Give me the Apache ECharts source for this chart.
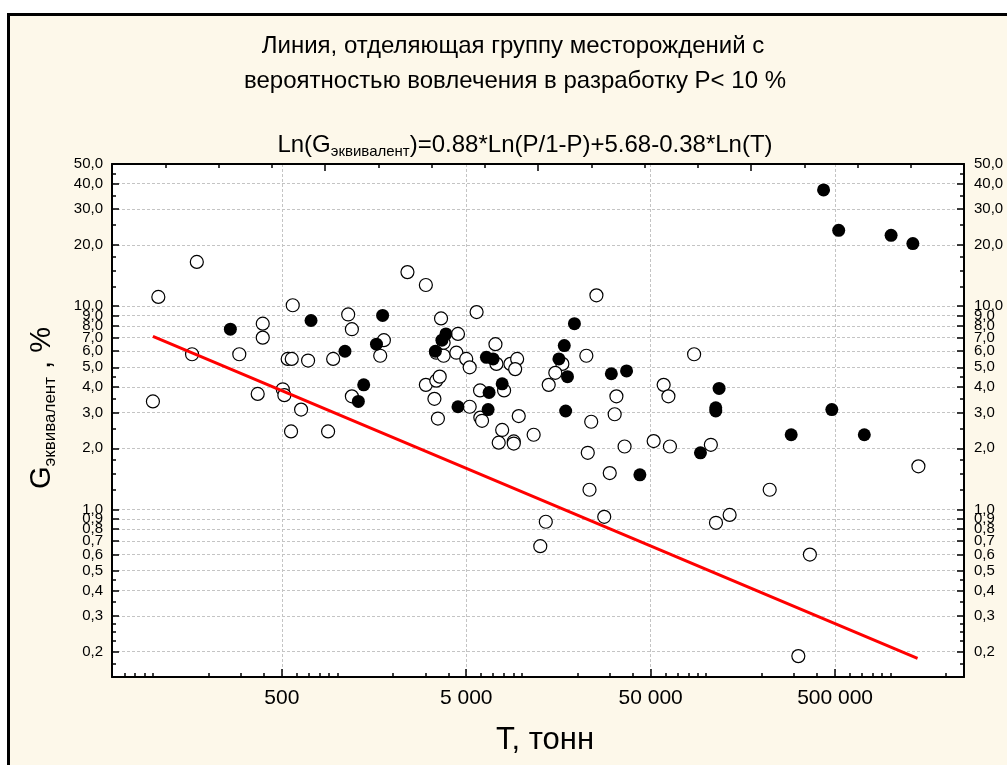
<!DOCTYPE html>
<html>
<head>
<meta charset="utf-8">
<script src="https://cdn.jsdelivr.net/npm/echarts@6/dist/echarts.min.js"></script>
<style>
  html, body { margin: 0; padding: 0; background: #fff; }
  #chart { width: 1007px; height: 765px; }
</style>
</head>
<body>
<div id="chart"></div>
<script>
  // [T, G] — месторождения, не вовлечённые в разработку (пустые кружки)
  const openPoints = [
    [173, 16.5], [107, 11.1], [394, 8.2], [394, 7.0], [163, 5.8], [294, 5.8], [100, 3.4],
    [370, 3.7], [506, 3.9], [516, 3.65], [636, 3.1], [573, 10.1], [538, 5.5], [566, 5.5],
    [694, 5.4], [949, 5.5], [1145, 9.1], [1199, 7.7], [1199, 3.6], [1788, 6.8], [1708, 5.7],
    [2400, 14.7], [3020, 12.7], [3650, 8.7], [4510, 7.3], [3770, 6.6], [3440, 5.9], [3770, 5.7],
    [4420, 5.9], [5000, 5.5], [5220, 5.0], [3020, 4.1], [3440, 4.3], [3590, 4.5], [3360, 3.5],
    [3510, 2.8], [5220, 3.2], [5690, 9.35], [7200, 6.5], [7290, 5.2], [8680, 5.2], [9440, 5.5],
    [9210, 4.9], [5940, 3.85], [8020, 3.85], [5960, 2.83], [6090, 2.73], [9630, 2.88], [561, 2.42],
    [891, 2.42], [7830, 2.46], [7500, 2.13], [9050, 2.16], [9050, 2.11], [11600, 2.33], [25400, 11.3],
    [16600, 5.2], [15200, 4.7], [14000, 4.1], [22400, 5.7], [32600, 3.6], [31900, 2.94], [23800, 2.7],
    [86000, 5.8], [58800, 4.1], [62400, 3.6], [22800, 1.9], [36100, 2.04], [30000, 1.51], [23300, 1.25],
    [51900, 2.17], [63600, 2.04], [106000, 2.08], [1415000, 1.63], [221000, 1.25], [13500, 0.87],
    [12600, 0.66], [28000, 0.92], [113000, 0.86], [134000, 0.94], [365000, 0.6], [316000, 0.19]
  ]
  // [T, G] — вовлечённые в разработку (залитые кружки)
  const filledPoints = [
    [263, 7.7], [720, 8.5], [1100, 6.0], [1390, 4.1], [1300, 3.4], [1760, 9.0], [1630, 6.5],
    [3880, 7.3], [3690, 6.8], [3400, 6.0], [4510, 3.2], [6430, 5.6], [6990, 5.5], [6650, 3.76],
    [7830, 4.15], [6570, 3.1], [433000, 37.3], [523000, 23.6], [1006000, 22.3], [1320000, 20.3],
    [19300, 8.2], [17000, 6.4], [15900, 5.5], [17700, 4.5], [30600, 4.65], [37000, 4.8], [17300, 3.05],
    [117500, 3.94], [112700, 3.16], [112700, 3.05], [480000, 3.1], [43700, 1.48], [93100, 1.9],
    [289000, 2.33], [720000, 2.33]
  ]
  // граница P < 10 %
  const boundaryLine = [[100, 7.1], [1400000, 0.185]]

  const xTickValues = [500, 5000, 50000, 500000]
  const yTickValues = [50, 40, 30, 20, 10, 9, 8, 7, 6, 5, 4, 3, 2, 1, 0.9, 0.8, 0.7, 0.6, 0.5, 0.4, 0.3, 0.2]
  const yMinorTicks = [0.175, 0.225, 0.25, 0.275, 0.35, 0.45, 1.25, 1.5, 1.75, 2.5, 3.5, 4.5, 12.5, 15, 17.5, 25, 35, 45]

  const X_MIN = 60, X_MAX = 2500000, Y_MIN = 0.15, Y_MAX = 50
  const FONT = 'Liberation Sans, Arial, sans-serif'

  let xMinorTicks = []
  for (let k = 1; k <= 6; k++) {
    for (let m = 1; m <= 9; m++) {
      let v = m * Math.pow(10, k)
      if (m !== 5 && v >= X_MIN && v <= X_MAX) xMinorTicks.push(v)
    }
  }

  const fmtX = v => String(Math.round(v)).replace(/\B(?=(\d{3})+(?!\d))/g, ' ')
  const fmtY = v => Number(v).toFixed(1).replace('.', ',')

  const black = {color: '#000', width: 1.5}
  const axisLine = {onZero: false, lineStyle: {color: '#000', width: 2}}

  const logY = (pos, ticks, len, labels, split) => ({
    type: 'log', min: Y_MIN, max: Y_MAX, position: pos,
    axisLine: labels ? axisLine : {show: false},
    axisTick: {inside: true, length: len, customValues: ticks, lineStyle: black},
    axisLabel: labels ? {
      customValues: ticks, formatter: fmtY, margin: pos === 'left' ? 9 : 10,
      fontSize: 15, color: '#000', fontFamily: FONT
    } : {show: false},
    splitLine: split ? {show: true, lineStyle: {type: [3, 2], color: '#c4c4c4'}} : {show: false},
    minorTick: {show: false}
  })

  const chart = echarts.init(document.getElementById('chart'))
  chart.setOption({
    backgroundColor: '#fff',
    animation: false,
    grid: {left: 112, top: 164, width: 852, height: 513, show: true, backgroundColor: '#fff', borderWidth: 0},
    xAxis: [
      {
        type: 'log', min: X_MIN, max: X_MAX, position: 'bottom',
        axisLine: axisLine,
        axisTick: {inside: true, length: 8, customValues: xTickValues, lineStyle: black},
        axisLabel: {customValues: xTickValues, formatter: fmtX, margin: 11, fontSize: 21, color: '#000', fontFamily: FONT},
        splitLine: {show: true, lineStyle: {type: [3, 2], color: '#c4c4c4'}}
      },
      {
        type: 'log', min: X_MIN, max: X_MAX, position: 'bottom',
        axisLine: {show: false},
        axisTick: {inside: true, length: 4, customValues: xMinorTicks, lineStyle: black},
        axisLabel: {show: false}, splitLine: {show: false}
      },
      {
        type: 'value', min: 0, max: 4, interval: 1, position: 'top',
        axisLine: axisLine,
        axisTick: {inside: true, length: 7, lineStyle: black},
        minorTick: {show: true, splitNumber: 4, length: 4, lineStyle: black},
        axisLabel: {show: false}, splitLine: {show: false}
      }
    ],
    yAxis: [
      logY('left', yTickValues, 7, true, true),
      logY('right', yTickValues, 7, true, false),
      logY('left', yMinorTicks, 4, false, false),
      logY('right', yMinorTicks, 4, false, false)
    ],
    graphic: [
      {type: 'rect', z: -10, shape: {x: 8.5, y: 14.5, width: 1010, height: 770},
        style: {fill: '#fdf8ea', stroke: '#000', lineWidth: 3}},
      {type: 'text', x: 513, y: 46, style: {text: 'Линия, отделяющая группу месторождений с',
        align: 'center', verticalAlign: 'middle', fontSize: 24, fontFamily: FONT, fill: '#000'}},
      {type: 'text', x: 515, y: 81, style: {text: 'вероятностью вовлечения в разработку P< 10 %',
        align: 'center', verticalAlign: 'middle', fontSize: 24, fontFamily: FONT, fill: '#000'}},
      {type: 'text', x: 525, y: 145, style: {
        text: '{a|Ln(G}{b|эквивалент}{a|)=0.88*Ln(P/1-P)+5.68-0.38*Ln(T)}',
        align: 'center', verticalAlign: 'middle',
        rich: {
          a: {fontSize: 24, lineHeight: 28, fontFamily: FONT, fill: '#000'},
          b: {fontSize: 15, lineHeight: 16, verticalAlign: 'bottom', fontFamily: FONT, fill: '#000'}
        }}},
      {type: 'text', x: 545, y: 740, style: {text: 'T, тонн',
        align: 'center', verticalAlign: 'middle', fontSize: 31, fontFamily: FONT, fill: '#000'}},
      {type: 'text', x: 42, y: 408, rotation: Math.PI / 2, style: {
        text: '{a|G}{b|эквивалент}{a| , %}',
        align: 'center', verticalAlign: 'middle',
        rich: {
          a: {fontSize: 29, lineHeight: 34, fontFamily: FONT, fill: '#000'},
          b: {fontSize: 17, lineHeight: 18, verticalAlign: 'bottom', fontFamily: FONT, fill: '#000'}
        }}}
    ],
    series: [
      {
        type: 'scatter', xAxisIndex: 0, yAxisIndex: 0, data: openPoints,
        symbol: 'circle', symbolSize: 13, silent: true,
        itemStyle: {color: '#fff', borderColor: '#000', borderWidth: 1.2, opacity: 1}
      },
      {
        type: 'scatter', xAxisIndex: 0, yAxisIndex: 0, data: filledPoints,
        symbol: 'circle', symbolSize: 13, silent: true,
        itemStyle: {color: '#000', opacity: 1}
      },
      {
        type: 'line', xAxisIndex: 0, yAxisIndex: 0, data: boundaryLine, z: 5,
        symbol: 'none', silent: true,
        lineStyle: {color: '#ff0000', width: 3}
      }
    ]
  })
</script>
</body>
</html>
